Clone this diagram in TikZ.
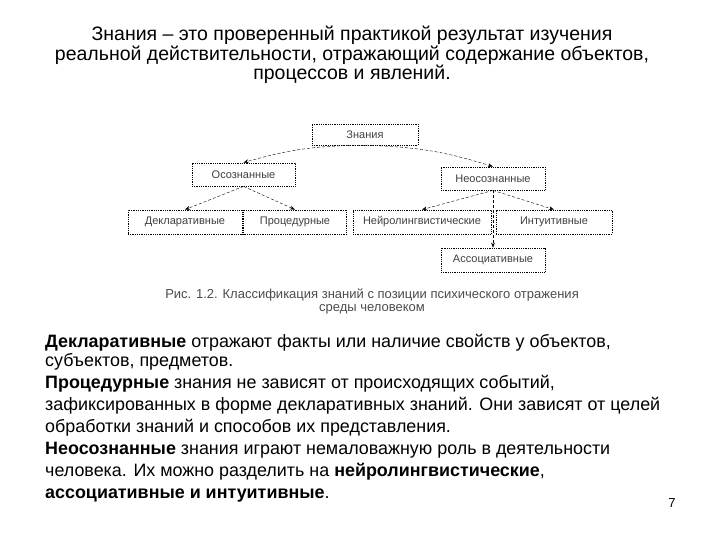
\documentclass[tikz,border=0pt]{standalone}
\usepackage{fontspec}
\setmainfont{Liberation Sans}
\usetikzlibrary{arrows.meta}
\begin{document}
\begin{tikzpicture}[x=1pt,y=-1pt,
  bx/.style={draw,densely dotted,thick,inner sep=0pt,font=\fontsize{11}{13}\selectfont,text=black!75},
  ar/.style={densely dashed,-{Stealth[length=5pt]}},
  tl/.style={anchor=west,inner sep=0pt,font=\fontsize{17.9}{20}\selectfont}]
\useasboundingbox[fill=white] (0,0) rectangle (720,540);
\node[font=\fontsize{19.5}{18}\selectfont,align=center,inner sep=0pt] (title) at (352,55) {Знания – это проверенный практикой результат изучения\\реальной действительности, отражающий содержание объектов,\\процессов и явлений.};
\node[bx,minimum width=106,minimum height=21] (z) at (365,134.5) {Знания};
\node[bx,minimum width=103,minimum height=23] (o) at (243.5,174.5) {Осознанные};
\node[bx,minimum width=104,minimum height=23] (n) at (493,178.5) {Неосознанные};
\node[bx,minimum width=114,minimum height=24] (d) at (185,222) {Декларативные};
\node[bx,minimum width=103,minimum height=24] (p) at (295,222) {Процедурные};
\node[bx,minimum width=138,minimum height=24] (nl) at (422,222) {Нейролингвистические};
\node[bx,minimum width=116,minimum height=24] (i) at (554,222) {Интуитивные};
\node[bx,minimum width=104,minimum height=24] (a) at (493,260) {Ассоциативные};
\draw[ar] (z.south) to[bend right=8] (o.north);
\draw[ar] (z.south) to[bend left=8] (n.north);
\draw[ar] (o.south) -- (d.north);
\draw[ar] (o.south) -- (p.north);
\draw[ar] (n.south) -- (nl.north);
\draw[ar] (n.south) -- (i.north);
\draw[ar] (n.south) -- (a.north);
\node[font=\fontsize{13}{13}\selectfont,align=center,inner sep=0pt,text=black!70] (cap) at (372,302) {Рис. 1.2. Классификация знаний с позиции психического отражения\\среды человеком};
\node[tl] (l1) at (45,343) {\strut\textbf{Декларативные} отражают факты или наличие свойств у объектов,};
\node[tl] (l2) at (45,362) {\strut субъектов, предметов.};
\node[tl] (l3) at (45,384) {\strut\textbf{Процедурные} знания не зависят от происходящих событий,};
\node[tl] (l4) at (45,406) {\strut зафиксированных в форме декларативных знаний. Они зависят от целей};
\node[tl] (l5) at (45,428) {\strut обработки знаний и способов их представления.};
\node[tl] (l6) at (45,450) {\strut\textbf{Неосознанные} знания играют немаловажную роль в деятельности};
\node[tl] (l7) at (45,472) {\strut человека. Их можно разделить на \textbf{нейролингвистические},};
\node[tl] (l8) at (45,494) {\strut\textbf{ассоциативные и интуитивные}.};
\node[font=\fontsize{13}{15}\selectfont] (pg) at (672,503) {7};
\end{tikzpicture}
\end{document}
